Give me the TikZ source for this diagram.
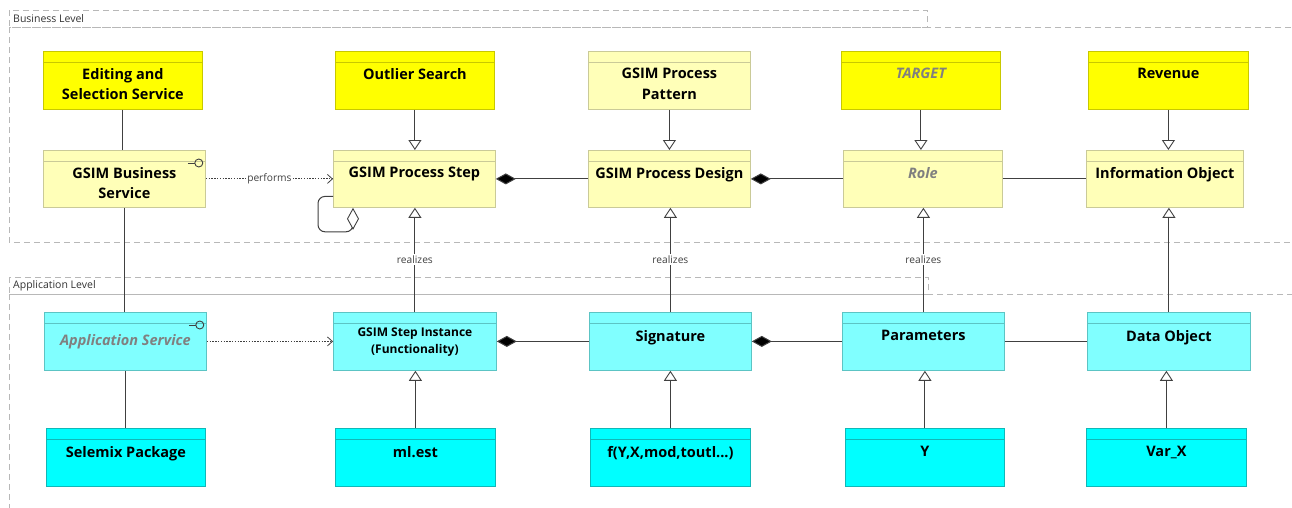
\documentclass[tikz,border=0pt]{standalone}
\usepackage{fontspec}
\setmainfont{Open Sans}
\usetikzlibrary{arrows.meta}
% element colours
\definecolor{ybright}{HTML}{FFFF00}
\definecolor{ybrightb}{HTML}{C8C800}
\definecolor{ylight}{HTML}{FFFFB8}
\definecolor{ylightb}{HTML}{CACA98}
\definecolor{cbright}{HTML}{00FFFF}
\definecolor{cbrightb}{HTML}{10B8B8}
\definecolor{clight}{HTML}{80FFFF}
\definecolor{clightb}{HTML}{5CC4C4}
\definecolor{lnc}{HTML}{404040}
\definecolor{frm}{HTML}{B8B8B8}
\definecolor{ghost}{HTML}{808080}
\begin{document}
\begin{tikzpicture}[x=1pt,y=-1pt,
  hdr/.style={path picture={\draw[#1,line width=0.8pt]
      ([yshift=-11pt]path picture bounding box.north west) --
      ([yshift=-11pt]path picture bounding box.north east);}},
  box/.style={rectangle,anchor=north west,inner sep=0pt,line width=0.8pt,
      minimum height=58pt,minimum width=160pt},
  bobj/.style={box,fill=ybright,draw=ybrightb,hdr=ybrightb},
  bele/.style={box,fill=ylight,draw=ylightb,hdr=ylightb},
  aobj/.style={box,fill=cbright,draw=cbrightb,hdr=cbrightb},
  aele/.style={box,fill=clight,draw=clightb,hdr=clightb},
  btxt/.style={anchor=north,inner sep=0pt,align=center,
      font=\fontsize{14.5}{20.5}\selectfont\bfseries},
  stxt/.style={anchor=north,inner sep=0pt,align=center,
      font=\fontsize{12}{17}\selectfont\bfseries},
  itxt/.style={btxt,font=\fontsize{14.5}{20.5}\selectfont\bfseries\itshape,text=ghost},
  frame/.style={draw=frm,line width=0.9pt,dash pattern=on 6pt off 4pt},
  flbl/.style={anchor=west,inner sep=0pt,font=\fontsize{10.5}{12}\selectfont,text=black!80},
  conn/.style={draw=lnc,line width=1pt},
  spec/.style={conn,-{Triangle[width=13pt,length=10pt,fill=white,line width=0.9pt]}},
  comp/.style={conn,-{Diamond[width=11pt,length=20pt,fill=black]}},
  agg/.style={conn,{Diamond[width=12pt,length=22pt,fill=white,line width=0.9pt]}-},
  dep/.style={draw=lnc,line width=0.9pt,dash pattern=on 1.4pt off 1.4pt,
      -{Straight Barb[length=5pt,width=9pt,line width=0.8pt]}},
  elbl/.style={fill=white,inner sep=1.5pt,font=\fontsize{10.2}{12}\selectfont,text=black!75},
  iface/.style={draw=lnc,line width=0.9pt}
]
\useasboundingbox (0,0) rectangle (1292,507);
\fill[white] (0,0) rectangle (1292,507);
\clip (0,0) rectangle (1292,507);

% level frames with their name tabs
\draw[frame] (9,27) rectangle (1320,242);
\draw[frame] (9,10) rectangle (927,27);
\node[flbl] (blev) at (13,19) {Business Level};
\draw[frame] (9,294) rectangle (1320,540);
\draw[frame] (9,277) rectangle (928,294);
\node[flbl] (alev) at (13,286) {Application Level};

% row 1: business objects / patterns
\node[bobj,minimum width=159pt] (edit) at (43,51) {};
\node[btxt] (edit-t) at ([yshift=-17pt]edit.north) {Editing and\\Selection Service};
\node[bobj,minimum width=159pt] (outl) at (335,51) {};
\node[btxt] (outl-t) at ([yshift=-17pt]outl.north) {Outlier Search};
\node[bele,minimum width=162pt] (patt) at (588,51) {};
\node[btxt] (patt-t) at ([yshift=-17pt]patt.north) {GSIM Process\\Pattern};
\node[bobj,minimum width=159pt] (targ) at (841,51) {};
\node[itxt] (targ-t) at ([yshift=-17pt]targ.north) {TARGET};
\node[bobj,minimum width=160pt] (reve) at (1088,51) {};
\node[btxt] (reve-t) at ([yshift=-17pt]reve.north) {Revenue};

% row 2: business level elements
\node[bele,minimum width=162pt,minimum height=57pt] (bsvc) at (43,150) {};
\node[btxt] (bsvc-t) at ([yshift=-17pt]bsvc.north) {GSIM Business\\Service};
\node[bele,minimum width=162pt,minimum height=57pt] (pstep) at (333,150) {};
\node[btxt] (pstep-t) at ([yshift=-17pt]pstep.north) {GSIM Process Step};
\node[bele,minimum width=162pt,minimum height=57pt] (pdes) at (588,150) {};
\node[btxt] (pdes-t) at ([yshift=-17pt]pdes.north) {GSIM Process Design};
\node[bele,minimum width=159pt,minimum height=57pt] (role) at (843,150) {};
\node[itxt] (role-t) at ([yshift=-17pt]role.north) {Role};
\node[bele,minimum width=157pt,minimum height=57pt] (info) at (1086,150) {};
\node[btxt] (info-t) at ([yshift=-17pt]info.north) {Information Object};

% row 3: application level elements
\node[aele,minimum width=162pt] (asvc) at (44,312) {};
\node[itxt] (asvc-t) at ([yshift=-22.5pt]asvc.north) {Application Service};
\node[aele,minimum width=163pt] (sins) at (333,312) {};
\node[stxt] (sins-t) at ([yshift=-16pt]sins.north) {GSIM Step Instance\\(Functionality)};
\node[aele,minimum width=162pt] (sign) at (589,312) {};
\node[btxt] (sign-t) at ([yshift=-18pt]sign.north) {Signature};
\node[aele,minimum width=162pt] (parm) at (842,312) {};
\node[btxt] (parm-t) at ([yshift=-18pt]parm.north) {Parameters};
\node[aele,minimum width=163pt] (dobj) at (1087,312) {};
\node[btxt] (dobj-t) at ([yshift=-18pt]dobj.north) {Data Object};

% row 4: application objects
\node[aobj,minimum width=159pt] (semx) at (46,428) {};
\node[btxt] (semx-t) at ([yshift=-18pt]semx.north) {Selemix Package};
\node[aobj,minimum width=160pt] (mles) at (335,428) {};
\node[btxt] (mles-t) at ([yshift=-18pt]mles.north) {ml.est};
\node[aobj,minimum width=160pt] (func) at (590,428) {};
\node[btxt] (func-t) at ([yshift=-18pt]func.north) {f(Y,X,mod,toutl...)};
\node[aobj,minimum width=159pt] (yvar) at (845,428) {};
\node[btxt] (yvar-t) at ([yshift=-18pt]yvar.north) {Y};
\node[aobj,minimum width=160pt] (varx) at (1086,428) {};
\node[btxt] (varx-t) at ([yshift=-18pt]varx.north) {Var\_X};

% interface markers on the services
\foreach \s in {bsvc,asvc}{
  \draw[iface] ([xshift=-18pt,yshift=-13pt]\s.north east) -- ([xshift=-11pt,yshift=-13pt]\s.north east);
  \draw[iface] ([xshift=-7pt,yshift=-13pt]\s.north east) circle (4pt);
}

% plain associations
\draw[conn] (edit.south) -- (edit.south |- bsvc.north);
\draw[conn] (bsvc.south) -- (bsvc.south |- asvc.north);
\draw[conn] (asvc.south) -- (asvc.south |- semx.north);
\draw[conn] (role.east) -- (info.west);
\draw[conn] (parm.east) -- (dobj.west);

% specialisations, business row
\draw[spec] (outl.south) -- (outl.south |- pstep.north);
\draw[spec] (patt.south) -- (patt.south |- pdes.north);
\draw[spec] (targ.south) -- (targ.south |- role.north);
\draw[spec] (reve.south) -- (reve.south |- info.north);

% compositions
\draw[comp] (pdes.west) -- (pstep.east);
\draw[comp] (role.west) -- (pdes.east);
\draw[comp] (sign.west) -- (sins.east);
\draw[comp] (parm.west) -- (sign.east);

% self aggregation on the process step
\draw[agg,rounded corners=7pt] ([xshift=20pt]pstep.south west) -- ++(0,24)
  -| ([xshift=-15pt,yshift=-17.5pt]pstep.west) -- ([yshift=-17.5pt]pstep.west);

% serving relations
\draw[dep] (bsvc.east) -- node[elbl] (perf) {performs} (pstep.west);
\draw[dep] (asvc.east) -- (sins.west);

% realisations between the levels
\draw[spec] (sins.north) -- node[elbl] (re1) {realizes} (sins.north |- pstep.south);
\draw[spec] (sign.north) -- node[elbl] (re2) {realizes} (sign.north |- pdes.south);
\draw[spec] (parm.north) -- node[elbl] (re3) {realizes} (parm.north |- role.south);
\draw[spec] (dobj.north) -- (dobj.north |- info.south);

% application objects specialising their elements
\draw[spec] (mles.north) -- (mles.north |- sins.south);
\draw[spec] (func.north) -- (func.north |- sign.south);
\draw[spec] (yvar.north) -- (yvar.north |- parm.south);
\draw[spec] (varx.north) -- (varx.north |- dobj.south);
\end{tikzpicture}
\end{document}
